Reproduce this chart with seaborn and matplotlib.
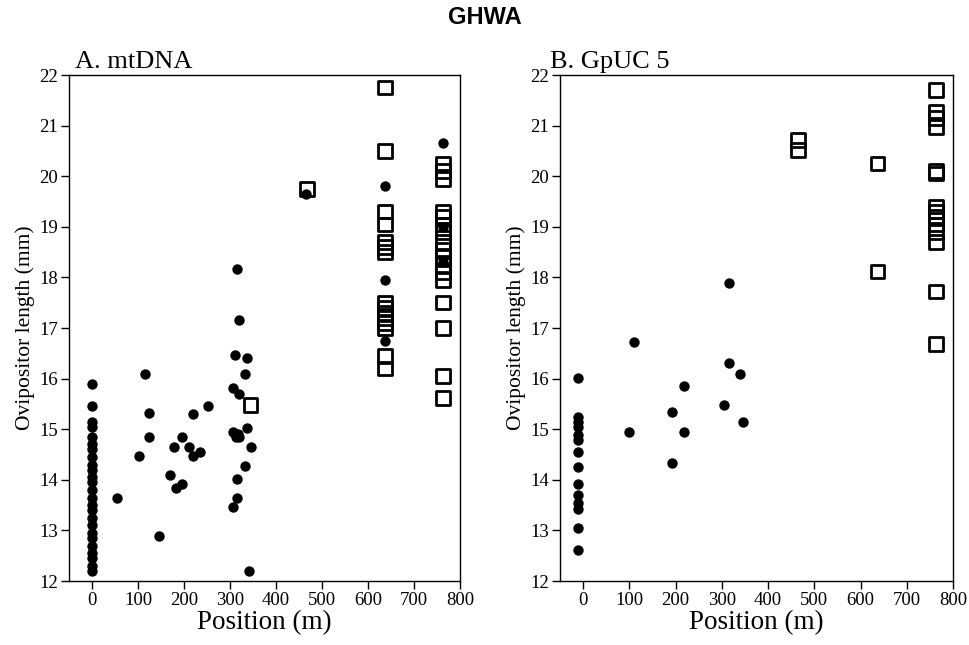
import matplotlib
matplotlib.use("Agg")
import matplotlib.pyplot as plt
import seaborn as sns
import pandas as pd

# ---------------- data ----------------
# Panel A (mtDNA): filled circles
a_dot_pos = [0] * 25 + [54, 102, 115, 124, 124, 145, 170, 178, 182, 195, 195, 211, 219, 219, 235,
                        252, 306, 306, 306, 310, 312, 315, 315, 315, 318, 320, 320, 320, 332, 332,
                        336, 336, 341, 345, 465, 637, 637, 637, 763, 763, 763]
a_dot_len = [15.9, 15.45, 15.15, 15.05, 14.85, 14.7, 14.6, 14.45, 14.3, 14.2, 14.05, 13.95, 13.8,
             13.65, 13.5, 13.4, 13.25, 13.1, 12.95, 12.85, 12.7, 12.55, 12.45, 12.3, 12.2,
             13.65, 14.48, 16.1, 15.33, 14.85, 12.88, 14.1, 14.65, 13.83, 14.85, 13.92, 14.65,
             15.3, 14.48, 14.55, 15.45, 15.82, 14.95, 13.47, 16.47, 14.85, 18.17, 14.02, 13.65,
             14.9, 17.15, 15.7, 14.85, 16.1, 14.28, 16.4, 15.03, 12.2, 14.65, 19.65, 19.8, 17.95,
             16.75, 20.65, 19.0, 18.3]
# Panel A (mtDNA): open squares
a_sq_pos = [345, 467] + [637] * 15 + [763] * 17
a_sq_len = [15.48, 19.75,
            21.75, 20.5, 19.3, 19.05, 18.7, 18.6, 18.5, 17.5, 17.4, 17.3, 17.2, 17.1, 17.0, 16.45, 16.2,
            20.25, 20.1, 19.95, 19.3, 19.2, 19.05, 18.9, 18.7, 18.55, 18.4, 18.25, 18.1, 17.95,
            17.5, 17.0, 16.05, 15.62]

# Panel B (GpUC 5): filled circles
b_dot_pos = [-10] * 14 + [100, 110, 193, 193, 218, 218, 305, 315, 315, 340, 345]
b_dot_len = [16.02, 15.25, 15.15, 15.05, 14.88, 14.78, 14.55, 14.25, 13.92, 13.7, 13.55, 13.42,
             13.05, 12.62,
             14.95, 16.72, 15.35, 14.33, 15.85, 14.95, 15.48, 17.88, 16.3, 16.1, 15.15]
# Panel B (GpUC 5): open squares
b_sq_pos = [465, 465, 637, 637] + [763] * 14
b_sq_len = [20.72, 20.52, 20.25, 18.12,
            21.7, 21.28, 21.15, 20.97, 20.1, 20.05, 19.4, 19.3, 19.2, 19.05, 18.9, 18.7, 17.72, 16.68]

panel_titles = ["A. mtDNA", "B. GpUC 5"]
x_ticks = [0, 100, 200, 300, 400, 500, 600, 700, 800]
y_ticks = [12, 13, 14, 15, 16, 17, 18, 19, 20, 21, 22]

# ---------------- plot ----------------
sns.set_theme(style="ticks")
serif = ["Liberation Serif", "DejaVu Serif"]
plt.rcParams["font.family"] = serif
plt.rcParams.update({"text.color": "black", "axes.labelcolor": "black",
                     "xtick.color": "black", "ytick.color": "black",
                     "axes.edgecolor": "black"})

fig = plt.figure(figsize=(9.69, 6.45), dpi=100)
axA = fig.add_axes([0.0712, 0.0992, 0.4035, 0.7845])
axB = fig.add_axes([0.5779, 0.0992, 0.4056, 0.7845])

panels = [
    (axA, a_dot_pos, a_dot_len, a_sq_pos, a_sq_len, 0.015),
    (axB, b_dot_pos, b_dot_len, b_sq_pos, b_sq_len, -0.025),
]

for (ax, dp, dl, sp, sl, tx), title in zip(panels, panel_titles):
    dots = pd.DataFrame({"pos": dp, "len": dl})
    sqs = pd.DataFrame({"pos": sp, "len": sl})
    sns.scatterplot(data=dots, x="pos", y="len", ax=ax, color="black", s=56,
                    linewidth=0, marker="o", zorder=2)
    sns.scatterplot(data=sqs, x="pos", y="len", ax=ax, marker="s", s=95,
                    facecolor="none", edgecolor="black", linewidth=2.0, zorder=3)
    ax.set_xlim(-50, 800)
    ax.set_ylim(12, 22)
    ax.set_xticks(x_ticks)
    ax.set_yticks(y_ticks)
    ax.tick_params(axis="both", direction="out", length=6, width=1, labelsize=13.5,
                   colors="black", pad=2)
    for lab in ax.get_xticklabels() + ax.get_yticklabels():
        lab.set_family(serif)
    for sp_ in ax.spines.values():
        sp_.set_visible(True)
        sp_.set_color("black")
        sp_.set_linewidth(1.0)
    ax.set_xlabel("Position (m)", fontsize=19.5, family=serif, labelpad=1, color="black")
    ax.set_ylabel("Ovipositor length (mm)", fontsize=15.5, family=serif, labelpad=3, color="black")
    ax.set_title(title, loc="left", fontsize=19, family=serif, pad=5, x=tx, color="black")
    ax.grid(False)

fig.text(0.5, 0.99, "GHWA", ha="center", va="top", fontsize=17, fontweight="bold",
         color="black", family=["Liberation Sans", "DejaVu Sans"])

fig.savefig("out.png", dpi=100, facecolor="white")
